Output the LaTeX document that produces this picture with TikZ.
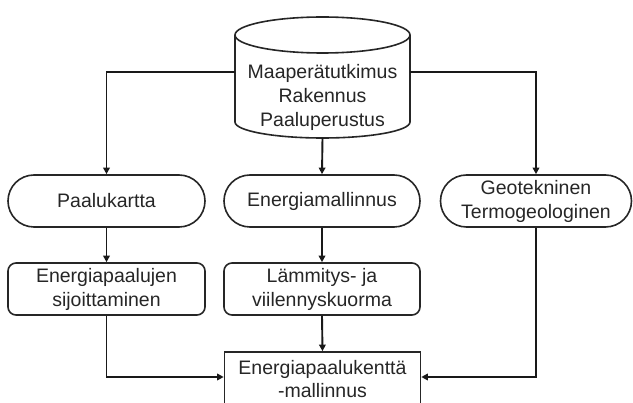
\documentclass[tikz,border=0pt]{standalone}
\usepackage{fontspec}
\setmainfont{Liberation Sans}
\usetikzlibrary{arrows.meta}
\begin{document}
\begin{tikzpicture}[x=1pt,y=-1pt,
  base/.style={draw=black!85,line width=1.6pt,align=center,font=\fontsize{19.5}{24}\selectfont,text=black!85,inner sep=0pt},
  stadium/.style={base,rounded corners=26pt,minimum width=197pt,minimum height=52pt},
  procbox/.style={base,rounded corners=8pt,minimum width=196pt,minimum height=52pt},
  plainbox/.style={base,minimum width=196pt,minimum height=58pt},
  arr/.style={line width=1.9pt,draw=black!90,-{Triangle[length=6.5pt,width=6.5pt]}}]
\useasboundingbox (0,0) rectangle (633,403);
% cylinder
\draw[line width=1.6pt,draw=black!85,fill=white]
  (235,35) -- (235,122) arc[start angle=180,end angle=360,x radius=87.5pt,y radius=16pt]
  -- (410,35);
\draw[line width=1.6pt,draw=black!85] (322.5,35) ellipse[x radius=87.5pt,y radius=18pt];
\node[inner sep=0pt,minimum width=175pt,minimum height=120pt] (db) at (322.5,78) {};
\node[align=center,font=\fontsize{19.5}{24}\selectfont,text=black!85,inner sep=0pt] (dbt) at (322.5,97)
  {Maaperätutkimus\\Rakennus\\Paaluperustus};
\coordinate (dbL) at (235,72);
\coordinate (dbR) at (410,72);
\coordinate (dbB) at (322.5,138);

\node[stadium] (pk) at (106.5,201) {Paalukartta};
\node[stadium,minimum width=196pt] (em) at (322,201) {Energiamallinnus};
\node[stadium,minimum width=191pt] (geo) at (536,201) {Geotekninen\\Termogeologinen};

\node[procbox,minimum width=197pt] (ep) at (106.5,289) {Energiapaalujen\\sijoittaminen};
\node[procbox] (lk) at (322,289) {Lämmitys- ja\\viilennyskuorma};

\node[plainbox] (bx) at (322.5,381) {};
\node[align=center,font=\fontsize{19.5}{23}\selectfont,text=black!85,inner sep=0pt] (bxt) at (322.5,379)
  {Energiapaalukenttä\\-mallinnus};

\draw[arr] (dbL) -| (pk.north);
\draw[arr] (dbR) -| (geo.north);
\draw[arr] (dbB) -- (em.north);
\draw[arr] (pk.south) -- (ep.north);
\draw[arr] (em.south) -- (lk.north);
\draw[arr] (lk.south) -- (bx.north);
\draw[arr] (ep.south) |- (bx.west |- 0,377);
\draw[arr] (geo.south) |- (bx.east |- 0,377);
\end{tikzpicture}
\end{document}
